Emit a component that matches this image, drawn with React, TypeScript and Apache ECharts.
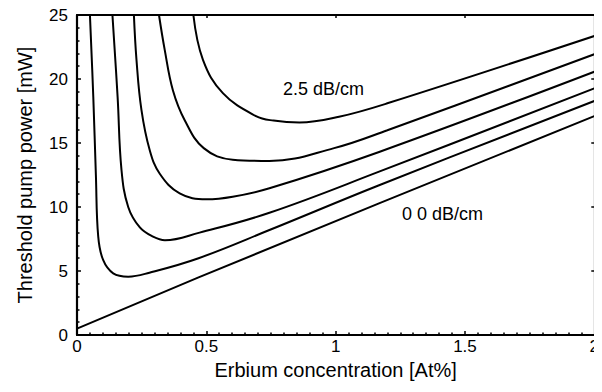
import React, { useEffect, useRef } from "react";
import * as echarts from "echarts";

// Threshold pump power [mW] vs Erbium concentration [At%], background loss 0.0 ... 2.5 dB/cm
const loss00: [number, number][] = [[0, 0.5], [0.47, 4.5], [1.17, 10.3], [2, 17.1]];
const loss05: [number, number][] = [
  [0.05, 25], [0.063, 18.6], [0.073, 12.5], [0.082, 7.7], [0.101, 5.86], [0.14, 4.82],
  [0.198, 4.56], [0.28, 4.87], [0.47, 6.0], [0.744, 8.2], [1.168, 11.7], [2, 18.28],
];
const loss10: [number, number][] = [
  [0.137, 25], [0.157, 18.6], [0.172, 12.9], [0.198, 10.0], [0.243, 8.4], [0.294, 7.68],
  [0.34, 7.4], [0.474, 8.0], [0.744, 9.55], [1.168, 12.76], [2, 19.27],
];
const loss15: [number, number][] = [
  [0.22, 25], [0.23, 21.5], [0.249, 17.6], [0.281, 14.45], [0.32, 12.6], [0.397, 11.07],
  [0.5, 10.6], [0.602, 10.8], [0.744, 11.46], [1.168, 14.3], [2, 20.57],
];
const loss20: [number, number][] = [
  [0.317, 25], [0.339, 22.3], [0.371, 19.1], [0.416, 16.8], [0.49, 14.6], [0.602, 13.7],
  [0.744, 13.6], [0.994, 14.6], [1.2, 16.0], [2, 21.93],
];
const loss25: [number, number][] = [
  [0.45, 25], [0.487, 21.5], [0.564, 18.9], [0.692, 17.1], [0.76, 16.75], [0.86, 16.6],
  [1.013, 17.05], [1.2, 18.1], [2, 23.36],
];
const curves = [loss00, loss05, loss10, loss15, loss20, loss25];
const curveNames = ["0.0 dB/cm", "0.5 dB/cm", "1.0 dB/cm", "1.5 dB/cm", "2.0 dB/cm", "2.5 dB/cm"];

const xMin = 0, xMax = 2, xStep = 0.5;
const yMin = 0, yMax = 25, yStep = 5;
const xTitle = "Erbium concentration [At%]";
const yTitle = "Threshold pump power [mW]";
const topLabel = "2.5 dB/cm";
const bottomLabel = "0 0 dB/cm";

const FONT = "'Liberation Sans', Arial, Helvetica, sans-serif";

export default function App() {
  const ref = useRef<HTMLDivElement>(null);
  useEffect(() => {
    if (!ref.current) return;
    const chart = echarts.init(ref.current, undefined, { renderer: "svg" });
    const axisLine = { show: true, onZero: false, lineStyle: { color: "#000", width: 2.2 } };
    const tick = { show: true, inside: true, length: 4, lineStyle: { color: "#000", width: 1.5 } };
    chart.setOption({
      animation: false,
      backgroundColor: "#fff",
      grid: { left: 77, right: 7, top: 15, bottom: 57, containLabel: false },
      xAxis: [
        {
          type: "value", min: xMin, max: xMax, interval: xStep, position: "bottom",
          axisLine, splitLine: { show: false }, axisTick: tick,
          minorTick: { show: true, splitNumber: 10, length: 2.5, lineStyle: { color: "#000", width: 1.5 } },
          axisLabel: { color: "#000", fontSize: 17, fontFamily: FONT, margin: 3 },
          name: xTitle, nameLocation: "middle", nameGap: 25,
          nameTextStyle: { color: "#000", fontSize: 20, fontFamily: FONT },
        },
        {
          type: "value", min: xMin, max: xMax, interval: xStep, position: "top",
          axisLine, splitLine: { show: false }, axisTick: { ...tick, length: 3 },
          axisLabel: { show: false },
        },
      ],
      yAxis: [
        {
          type: "value", min: yMin, max: yMax, interval: yStep, position: "left",
          axisLine, splitLine: { show: false }, axisTick: tick,
          minorTick: { show: true, splitNumber: 5, length: 2.5, lineStyle: { color: "#000", width: 1.5 } },
          axisLabel: { color: "#000", fontSize: 17, fontFamily: FONT, margin: 9 },
          name: yTitle, nameLocation: "middle", nameGap: 42, nameRotate: 90,
          nameTextStyle: { color: "#000", fontSize: 20, fontFamily: FONT },
        },
        {
          type: "value", min: yMin, max: yMax, interval: yStep, position: "right",
          axisLine, splitLine: { show: false }, axisTick: { ...tick, length: 3 },
          axisLabel: { show: false },
        },
      ],
      series: curves.map((d, i) => ({
        type: "line",
        name: curveNames[i],
        data: d,
        xAxisIndex: 0,
        yAxisIndex: 0,
        showSymbol: false,
        symbol: "none",
        smooth: i === 0 ? false : 0.4,
        clip: true,
        lineStyle: { color: "#000", width: 2 },
        z: 3,
      })),
      graphic: [
        {
          type: "text", left: 283, top: 80,
          style: { text: topLabel, fill: "#000", fontSize: 18, fontFamily: FONT },
        },
        {
          type: "text", left: 402, top: 205,
          style: { text: bottomLabel, fill: "#000", fontSize: 18, fontFamily: FONT },
        },
      ],
    });
    return () => chart.dispose();
  }, []);
  return <div ref={ref} style={{ width: 602, height: 392, margin: -8 }} />;
}
